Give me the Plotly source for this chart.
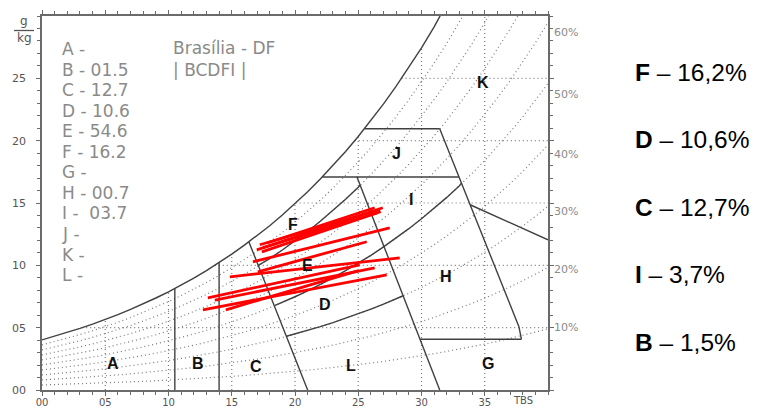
import numpy as np
import plotly.graph_objects as go

# ---------------- data ----------------
# saturation humidity ratio (g/kg) at each dry-bulb temperature (deg C)
sat_t = list(range(0, 41))
sat_w = [4.02, 4.31, 4.61, 4.94, 5.28, 5.65, 6.04, 6.46, 6.91, 7.38,
         7.88, 8.42, 8.98, 9.58, 10.22, 10.90, 11.62, 12.38, 13.18, 14.04,
         14.95, 15.90, 16.92, 17.99, 19.13, 20.33, 21.60, 22.95, 24.37, 25.87,
         27.45, 29.13, 30.90, 32.77, 34.74, 36.83, 39.03, 41.36, 43.81, 46.40, 49.15]
rh_levels = [10, 20, 30, 40, 50, 60, 70, 80, 90]
grid_x = [5, 10, 15, 20, 25, 30, 35]
grid_y = [5, 10, 15, 20, 25]

# zone boundary polylines (TBS deg C, g/kg)
line_ab_x = [10.5, 10.5]; line_ab_y = [0, 8.15]
line_bc_x = [14.0, 14.0]; line_bc_y = [0, 10.22]
line_c_x = [16.35, 21.0]; line_c_y = [11.9, 0]
rh80_x = [17.09, 18, 19, 20, 21, 22, 23, 24, 25, 25.15]
rh80_y = [10.0, 10.54, 11.23, 11.96, 12.72, 13.54, 14.39, 15.30, 16.26, 16.42]
rh50_x = [18.38, 19, 20, 21, 22, 23, 24, 25, 26, 27, 28, 29, 30, 31, 32, 33, 33.16]
rh50_y = [6.76, 7.02, 7.48, 7.95, 8.46, 9.00, 9.57, 10.17, 10.80, 11.48, 12.19,
          12.94, 13.73, 14.57, 15.45, 16.39, 16.58]
rh30_x = [19.33, 20, 21, 22, 23, 24, 25, 26, 27, 28, 28.55]
rh30_y = [4.31, 4.49, 4.77, 5.08, 5.40, 5.74, 6.10, 6.48, 6.89, 7.31, 7.56]
line_5_x = [24.9, 31.44]; line_5_y = [17.08, 0]
line_17_x = [22.15, 32.97]; line_17_y = [17.08, 17.08]
line_21_x = [25.5, 31.44]; line_21_y = [20.96, 20.96]
line_r_x = [31.44, 37.7, 37.9]; line_r_y = [20.96, 5.08, 4.07]
line_g_x = [29.88, 37.9]; line_g_y = [4.07, 4.07]
line_hk_x = [33.84, 40.0]; line_hk_y = [14.86, 12.05]

# climate lines (red): start (min) and end (max) points
clim_t0 = [16.98, 17.22, 17.38, 17.85, 17.46, 16.67, 17.06, 14.85, 13.11, 12.72, 14.53, 13.66]
clim_w0 = [11.24, 11.65, 11.08, 11.81, 11.41, 10.28, 9.48, 9.08, 7.39, 6.43, 6.43, 7.20]
clim_t1 = [26.94, 26.70, 26.54, 26.30, 26.78, 27.49, 25.67, 28.28, 25.12, 27.25, 24.96, 26.30]
clim_w1 = [14.62, 14.46, 14.22, 14.62, 14.30, 13.01, 11.89, 10.60, 10.04, 9.24, 9.56, 9.80]

zone_letters = ["A", "B", "C", "D", "E", "F", "G", "H", "I", "J", "K", "L"]
zone_lab_x = [5.65, 12.35, 16.95, 22.35, 21.0, 19.85, 35.25, 31.96, 29.2, 28.0, 34.85, 24.4]
zone_lab_y = [2.14, 2.14, 1.87, 6.83, 10.0, 13.25, 2.14, 9.1, 15.26, 19.0, 24.7, 2.0]

legend_values = ["", "01.5", "12.7", "10.6", "54.6", "16.2", "", "00.7", " 03.7", "", "", ""]
rh_label_text = ["10%", "20%", "30%", "40%", "50%", "60%"]
rh_label_y = [4.98, 9.64, 14.3, 18.9, 23.7, 28.7]
x_tick_vals = [0, 5, 10, 15, 20, 25, 30, 35]
y_tick_vals = [0, 5, 10, 15, 20, 25]

side_letters = ["F", "D", "C", "I", "B"]
side_values = ["16,2%", "10,6%", "12,7%", "3,7%", "1,5%"]

# ---------------- figure ----------------
OFF = 8                       # default page (body) margin in the browser
W, H = 760 - OFF, 410 - OFF
ML, MT = 42 - OFF, 16 - OFF   # plot area wanted at page x 42..548, y 16..390
MR, MB = W - (548 - OFF), H - (390 - OFF)
PW, PH = W - ML - MR, H - MT - MB


def px_to_paper(px, py):
    """page pixel -> paper coordinates"""
    return (px - OFF - ML) / PW, (H - MB - (py - OFF)) / PH


fig = go.Figure()
dot = dict(color="#7a7a7a", width=1.2, dash="1px,3px")
for lvl in rh_levels:
    fig.add_trace(go.Scatter(x=sat_t, y=[lvl / 100 * w for w in sat_w], mode="lines",
                             line=dot, hoverinfo="skip", showlegend=False))
for gx in grid_x:
    top = min(float(np.interp(gx, sat_t, sat_w)), 30)
    fig.add_trace(go.Scatter(x=[gx, gx], y=[0, top], mode="lines", line=dot,
                             hoverinfo="skip", showlegend=False))
for gy in grid_y:
    left = float(np.interp(gy, sat_w, sat_t))
    fig.add_trace(go.Scatter(x=[left, 40], y=[gy, gy], mode="lines", line=dot,
                             hoverinfo="skip", showlegend=False))

zl = dict(color="#404040", width=1.4)
for xs, ys in [(line_ab_x, line_ab_y), (line_bc_x, line_bc_y), (line_c_x, line_c_y),
               (rh80_x, rh80_y), (rh50_x, rh50_y), (rh30_x, rh30_y),
               (line_5_x, line_5_y), (line_17_x, line_17_y), (line_21_x, line_21_y),
               (line_r_x, line_r_y), (line_g_x, line_g_y), (line_hk_x, line_hk_y)]:
    fig.add_trace(go.Scatter(x=xs, y=ys, mode="lines", line=zl,
                             hoverinfo="skip", showlegend=False))

fig.add_trace(go.Scatter(x=sat_t, y=sat_w, mode="lines",
                         line=dict(color="#404040", width=1.4),
                         hoverinfo="skip", showlegend=False))

for t0, w0, t1, w1 in zip(clim_t0, clim_w0, clim_t1, clim_w1):
    fig.add_trace(go.Scatter(x=[t0, t1], y=[w0, w1], mode="lines",
                             line=dict(color="#ff0000", width=2.8),
                             hoverinfo="skip", showlegend=False))

ann = []
for lt, lx, ly in zip(zone_letters, zone_lab_x, zone_lab_y):
    ann.append(dict(x=lx, y=ly, xref="x", yref="y", text=f"<b>{lt}</b>", showarrow=False,
                    font=dict(family="Liberation Sans", size=16, color="#111111"),
                    xanchor="center", yanchor="middle"))

gray_font = dict(family="DejaVu Sans", size=17, color="#8a8a8a")
for i, (lt, val) in enumerate(zip(zone_letters, legend_values)):
    py = 49 + 20.55 * i
    x, y = px_to_paper(60, py)
    txt = f"{lt} - {val}" if val else f"{lt} -"
    ann.append(dict(x=x, y=y, xref="paper", yref="paper", text=txt, showarrow=False,
                    font=gray_font, xanchor="left", yanchor="middle"))

for txt, py in [("Brasília - DF", 48), ("| BCDFI |", 70)]:
    x, y = px_to_paper(171, py)
    ann.append(dict(x=x, y=y, xref="paper", yref="paper", text=txt, showarrow=False,
                    font=gray_font, xanchor="left", yanchor="middle"))

for txt, ry in zip(rh_label_text, rh_label_y):
    ann.append(dict(x=1, y=ry, xref="paper", yref="y", text=txt, showarrow=False,
                    xshift=4, font=dict(family="DejaVu Sans", size=11, color="#8a8a8a"),
                    xanchor="left", yanchor="middle"))

x, y = px_to_paper(524, 401)
ann.append(dict(x=38, y=y, xref="x", yref="paper", text="TBS", showarrow=False,
                font=dict(family="DejaVu Sans", size=10, color="#555555"),
                xanchor="center", yanchor="middle"))

for txt, py in [("g", 21), ("kg", 38)]:
    x, y = px_to_paper(24, py)
    ann.append(dict(x=x, y=y, xref="paper", yref="paper", text=txt, showarrow=False,
                    font=dict(family="DejaVu Sans", size=12, color="#555555"),
                    xanchor="center", yanchor="middle"))

for i, (lt, val) in enumerate(zip(side_letters, side_values)):
    py = 72 + 67.6 * i
    x, y = px_to_paper(633, py)
    ann.append(dict(x=x, y=y, xref="paper", yref="paper",
                    text=f"<b>{lt}</b> – {val}", showarrow=False,
                    font=dict(family="Liberation Sans", size=24.5, color="#000000"),
                    xanchor="left", yanchor="middle"))

bx0, by = px_to_paper(14, 30.5)
bx1, _ = px_to_paper(34, 30.5)
shapes = [dict(type="line", xref="paper", yref="paper", x0=bx0, x1=bx1, y0=by, y1=by,
               line=dict(color="#555555", width=1.3))]

axis_common = dict(showgrid=False, zeroline=False, showline=True, linecolor="#6a6a6a",
                   linewidth=1.5, mirror="allticks", ticks="outside", ticklen=4,
                   tickcolor="#6a6a6a", tickwidth=1.3, automargin=False,
                   minor=dict(dtick=1, tick0=0, ticks="outside", ticklen=3,
                              tickcolor="#6a6a6a", tickwidth=1.2),
                   tickformat="02d")

fig.update_layout(
    width=W, height=H, margin=dict(l=ML, r=MR, t=MT, b=MB),
    paper_bgcolor="white", plot_bgcolor="white",
    xaxis=dict(range=[0, 40], tickmode="array", tickvals=x_tick_vals,
               ticklabelstandoff=-2,
               tickfont=dict(family="DejaVu Sans", size=10, color="#555555"),
               **axis_common),
    yaxis=dict(range=[0, 30], tickmode="array", tickvals=y_tick_vals,
               ticklabelstandoff=8,
               tickfont=dict(family="DejaVu Sans", size=11, color="#555555"),
               **axis_common),
    annotations=ann, shapes=shapes, showlegend=False,
)

fig.write_html("out.html")
